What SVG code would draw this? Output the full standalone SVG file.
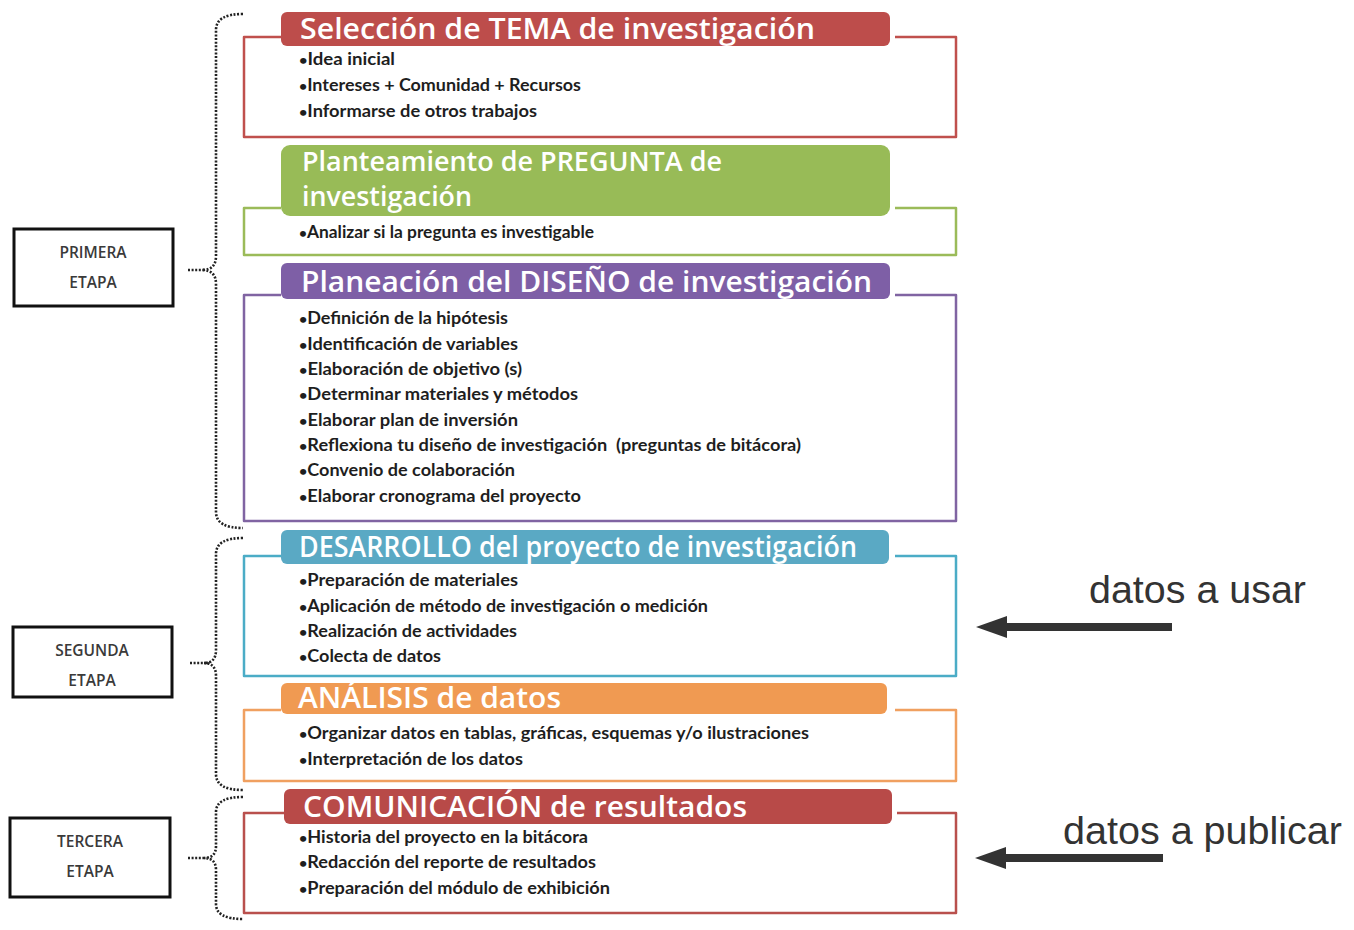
<svg xmlns="http://www.w3.org/2000/svg" width="1354" height="930" viewBox="0 0 1354 930">
  <defs>
    <style>
      .hdr { font-family: "Open Sans", "Liberation Sans", sans-serif; font-weight: 600; fill: #ffffff; font-size: 29px; }
      .hdr2 { font-family: "Open Sans", "Liberation Sans", sans-serif; font-weight: 600; fill: #ffffff; font-size: 27px; }
      .item { font-family: "Lato", "Liberation Sans", sans-serif; font-weight: 700; fill: #1e1e1e; font-size: 16.5px; }
      .dot { font-size: 13px; }
      .etapa { font-family: "Open Sans", "Liberation Sans", sans-serif; font-weight: 600; fill: #3a3a3a; font-size: 15.5px; text-anchor: middle; }
      .frame { fill: none; stroke-width: 2.5; stroke-linejoin: round; }
      .brace { fill: none; stroke: #222; stroke-width: 2.6; stroke-dasharray: 2 1.6; }
      .etbox { fill: #fff; stroke: #111; stroke-width: 3; }
      .note { font-family: "Liberation Sans", Arial, sans-serif; fill: #333; font-size: 38px; }
      .arrow { stroke: #333; stroke-width: 8; fill: none; }
    </style>
    <marker id="head" markerUnits="userSpaceOnUse" markerWidth="34" markerHeight="26" refX="7" refY="13" orient="auto">
      <path d="M0,2 L31,13 L0,24 Z" fill="#333"/>
    </marker>
  </defs>

  <rect width="1354" height="930" fill="#ffffff"/>

  <!-- stage braces and side arrows -->
  <g id="connectors">
    <path class="brace" d="M243,14 Q216,14 216,30 L216,256 Q216,270 202,270 Q216,270 216,284 L216,512 Q216,528 243,528"/>
    <path class="brace" d="M188,270 L204,270"/>
    <path class="brace" d="M243,538 Q216,538 216,554 L216,650 Q216,663 204,663 Q216,663 216,676 L216,774 Q216,790 243,790"/>
    <path class="brace" d="M190,663 L206,663"/>
    <path class="brace" d="M243,797 Q216,797 216,812 L216,846 Q216,858 204,858 Q216,858 216,870 L216,904 Q216,919 243,919"/>
    <path class="brace" d="M188,858 L206,858"/>
    <path class="arrow" d="M1172,627 L1000,627" marker-end="url(#head)"/>
    <path class="arrow" d="M1163,858 L999,858" marker-end="url(#head)"/>
  </g>

  <!-- stage labels -->
  <g id="primera">
    <rect class="etbox" x="14" y="229" width="159" height="77"/>
    <text class="etapa" x="93" y="258">PRIMERA</text>
    <text class="etapa" x="93" y="288">ETAPA</text>
  </g>
  <g id="segunda">
    <rect class="etbox" x="13" y="627" width="159" height="70"/>
    <text class="etapa" x="92" y="656">SEGUNDA</text>
    <text class="etapa" x="92" y="686">ETAPA</text>
  </g>
  <g id="tercera">
    <rect class="etbox" x="10" y="818" width="160" height="79"/>
    <text class="etapa" x="90" y="847">TERCERA</text>
    <text class="etapa" x="90" y="877">ETAPA</text>
  </g>

  <!-- 1: tema -->
  <g id="tema">
    <path class="frame" stroke="#c0504d" d="M281,37 L244,37 L244,137 L956,137 L956,37 L895,37"/>
    <rect x="281" y="12" width="609" height="34" rx="6" fill="#bd4d4b"/>
    <text class="hdr" x="300" y="39" textLength="515" lengthAdjust="spacingAndGlyphs">Selección de TEMA de investigación</text>
    <text class="item" x="299" y="65" textLength="96" lengthAdjust="spacingAndGlyphs"><tspan class="dot">•</tspan>Idea inicial</text>
    <text class="item" x="299" y="91" textLength="282" lengthAdjust="spacingAndGlyphs"><tspan class="dot">•</tspan>Intereses + Comunidad + Recursos</text>
    <text class="item" x="299" y="117" textLength="238" lengthAdjust="spacingAndGlyphs"><tspan class="dot">•</tspan>Informarse de otros trabajos</text>
  </g>

  <!-- 2: pregunta -->
  <g id="pregunta">
    <path class="frame" stroke="#9bbb59" d="M281,208 L244,208 L244,255 L956,255 L956,208 L895,208"/>
    <rect x="281" y="145" width="609" height="71" rx="9" fill="#98bb57"/>
    <text class="hdr2" x="302" y="171" textLength="420" lengthAdjust="spacingAndGlyphs">Planteamiento de PREGUNTA de</text>
    <text class="hdr2" x="302" y="206" textLength="170" lengthAdjust="spacingAndGlyphs">investigación</text>
    <text class="item" x="299" y="238" textLength="295" lengthAdjust="spacingAndGlyphs"><tspan class="dot">•</tspan>Analizar si la pregunta es investigable</text>
  </g>

  <!-- 3: diseño -->
  <g id="diseno">
    <path class="frame" stroke="#8064a2" d="M281,295 L244,295 L244,521 L956,521 L956,295 L895,295"/>
    <rect x="281" y="263" width="609" height="36" rx="6" fill="#7e5fa6"/>
    <text class="hdr" x="301" y="292" textLength="571" lengthAdjust="spacingAndGlyphs">Planeación del DISEÑO de investigación</text>
    <text class="item" x="299" y="324" textLength="209" lengthAdjust="spacingAndGlyphs"><tspan class="dot">•</tspan>Definición de la hipótesis</text>
    <text class="item" x="299" y="350" textLength="219" lengthAdjust="spacingAndGlyphs"><tspan class="dot">•</tspan>Identificación de variables</text>
    <text class="item" x="299" y="375" textLength="223" lengthAdjust="spacingAndGlyphs"><tspan class="dot">•</tspan>Elaboración de objetivo (s)</text>
    <text class="item" x="299" y="400" textLength="279" lengthAdjust="spacingAndGlyphs"><tspan class="dot">•</tspan>Determinar materiales y métodos</text>
    <text class="item" x="299" y="426" textLength="219" lengthAdjust="spacingAndGlyphs"><tspan class="dot">•</tspan>Elaborar plan de inversión</text>
    <text class="item" x="299" y="451" textLength="502" lengthAdjust="spacingAndGlyphs" xml:space="preserve"><tspan class="dot">•</tspan>Reflexiona tu diseño de investigación  (preguntas de bitácora)</text>
    <text class="item" x="299" y="476" textLength="216" lengthAdjust="spacingAndGlyphs"><tspan class="dot">•</tspan>Convenio de colaboración</text>
    <text class="item" x="299" y="502" textLength="282" lengthAdjust="spacingAndGlyphs"><tspan class="dot">•</tspan>Elaborar cronograma del proyecto</text>
  </g>

  <!-- 4: desarrollo -->
  <g id="desarrollo">
    <path class="frame" stroke="#4bacc6" d="M281,556 L244,556 L244,676 L956,676 L956,556 L895,556"/>
    <rect x="281" y="530" width="608" height="34" rx="6" fill="#5aa9c4"/>
    <text class="hdr" x="299" y="557" textLength="558" lengthAdjust="spacingAndGlyphs">DESARROLLO del proyecto de investigación</text>
    <text class="item" x="299" y="586" textLength="219" lengthAdjust="spacingAndGlyphs"><tspan class="dot">•</tspan>Preparación de materiales</text>
    <text class="item" x="299" y="612" textLength="409" lengthAdjust="spacingAndGlyphs"><tspan class="dot">•</tspan>Aplicación de método de investigación o medición</text>
    <text class="item" x="299" y="637" textLength="218" lengthAdjust="spacingAndGlyphs"><tspan class="dot">•</tspan>Realización de actividades</text>
    <text class="item" x="299" y="662" textLength="142" lengthAdjust="spacingAndGlyphs"><tspan class="dot">•</tspan>Colecta de datos</text>
  </g>

  <!-- 5: análisis -->
  <g id="analisis">
    <path class="frame" stroke="#f0a060" d="M281,710 L244,710 L244,781 L956,781 L956,710 L895,710"/>
    <rect x="281" y="683" width="606" height="31" rx="6" fill="#f09a52"/>
    <text class="hdr" x="298" y="708" textLength="263" lengthAdjust="spacingAndGlyphs">ANÁLISIS de datos</text>
    <text class="item" x="299" y="739" textLength="510" lengthAdjust="spacingAndGlyphs"><tspan class="dot">•</tspan>Organizar datos en tablas, gráficas, esquemas y/o ilustraciones</text>
    <text class="item" x="299" y="765" textLength="224" lengthAdjust="spacingAndGlyphs"><tspan class="dot">•</tspan>Interpretación de los datos</text>
  </g>

  <!-- 6: comunicación -->
  <g id="comunicacion">
    <path class="frame" stroke="#b9504d" d="M284,813 L244,813 L244,913 L956,913 L956,813 L897,813"/>
    <rect x="284" y="789" width="608" height="35" rx="6" fill="#b84a48"/>
    <text class="hdr" x="303" y="817" textLength="444" lengthAdjust="spacingAndGlyphs">COMUNICACIÓN de resultados</text>
    <text class="item" x="299" y="843" textLength="289" lengthAdjust="spacingAndGlyphs"><tspan class="dot">•</tspan>Historia del proyecto en la bitácora</text>
    <text class="item" x="299" y="868" textLength="297" lengthAdjust="spacingAndGlyphs"><tspan class="dot">•</tspan>Redacción del reporte de resultados</text>
    <text class="item" x="299" y="894" textLength="311" lengthAdjust="spacingAndGlyphs"><tspan class="dot">•</tspan>Preparación del módulo de exhibición</text>
  </g>

  <!-- side notes -->
  <g id="notes">
    <text class="note" x="1089" y="603" textLength="217" lengthAdjust="spacingAndGlyphs">datos a usar</text>
    <text class="note" x="1063" y="844" textLength="279" lengthAdjust="spacingAndGlyphs">datos a publicar</text>
  </g>
</svg>
